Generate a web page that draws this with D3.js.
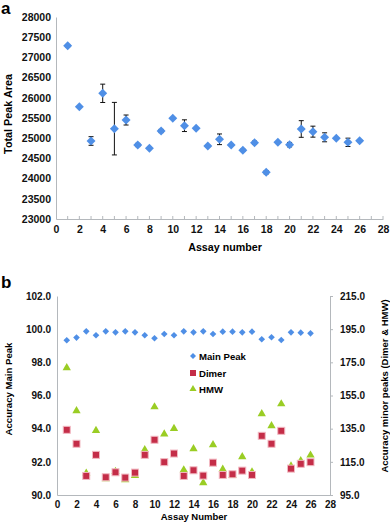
<!DOCTYPE html>
<html>
<head>
<meta charset="utf-8">
<script src="https://cdn.jsdelivr.net/npm/d3@7"></script>
<style>
  body { margin: 0; background: #fff; }
  svg { display: block; font-family: "Liberation Sans", Arial, sans-serif; font-weight: bold; }
  .axis path, .axis line { stroke: #b4b8bc; }
  .axis text { fill: #111; font-weight: bold; }
</style>
</head>
<body>
<div class="result"></div>
<script>
// Panel a: total peak area per assay (mean and error)
const assays = d3.range(1, 27);
const peakArea = [27290, 25780, 24931, 26111, 25236, 25450, 24832, 24750, 25178, 25493,
  25310, 25245, 24807, 24973, 24832, 24700, 24889, 24156, 24898, 24840,
  25228, 25162, 25022, 24998, 24898, 24939];
const peakErr = [30, 0, 107, 227, 650, 124, 40, 20, 40, 20,
  145, 0, 20, 132, 0, 30, 40, 40, 0, 55,
  206, 136, 111, 0, 103, 25];
const areaTicks = [23000, 23500, 24000, 24500, 25000, 25500, 26000, 26500, 27000, 27500, 28000];

// Panel b: accuracy values
const mainPeak = [99.33, 99.49, 99.87, 99.63, 99.87, 99.81, 99.87, 99.81, 99.63, 99.45,
  99.71, 99.63, 99.87, 99.81, 99.87, 99.71, 99.85, 99.85, 99.81, 99.85,
  99.39, 99.51, 99.35, 99.81, 99.79, 99.75];
const dimer = [134.3, 125.9, 106.5, 119.2, 105.7, 108.7, 105.5, 108.5, 119.2, 128.3,
  114.8, 120.0, 106.5, 109.9, 106.7, 114.5, 107.1, 107.5, 109.7, 107.1,
  130.7, 125.9, 133.7, 110.9, 113.8, 114.8];
const hmw = [171.7, 145.8, 108.1, 133.9, 104.7, 109.1, 104.1, 106.7, 122.2, 148.1,
  131.7, 135.1, 110.1, 122.8, 102.4, 125.3, 110.5, 106.7, 118.0, 108.9,
  144.0, 136.7, 149.9, 112.5, 115.6, 119.0];
const mainTicks = [90, 92, 94, 96, 98, 100, 102];
const minorTicks = [95, 115, 135, 155, 175, 195, 215];
const xTicks = d3.range(0, 29, 2);

const w = 390;
const h = 522;
const blue = '#4f8fe6';
const red = '#c42d48';
const green = '#9acd24';

const svg = d3.select('.result')
  .append('svg')
  .attr('width', w)
  .attr('height', h);

const diamond = d3.symbol().type(d3.symbolSquare);
const tri = d3.symbol().type(d3.symbolTriangle).size(30);

// ---------- panel a ----------
const xA = d3.scaleLinear().domain([0, 28]).range([56, 383]);
const yA = d3.scaleLinear().domain([23000, 28000]).range([219, 17]);

svg.append('g')
  .attr('class', 'axis')
  .attr('transform', 'translate(0,' + yA(23000) + ')')
  .call(d3.axisBottom(xA).tickValues(xTicks).tickSize(0).tickPadding(7).tickSizeOuter(0))
  .call(g => g.selectAll('text').style('font-size', '10.5px'));

// small tick marks every unit, pointing into the plot
svg.append('g')
  .selectAll('line')
  .data(d3.range(1, 29))
  .enter()
  .append('line')
  .attr('x1', d => xA(d)).attr('x2', d => xA(d))
  .attr('y1', yA(23000)).attr('y2', yA(23000) - 3)
  .attr('stroke', '#b4b8bc');

svg.append('g')
  .attr('class', 'axis')
  .attr('transform', 'translate(' + xA(0) + ',0)')
  .call(d3.axisLeft(yA).tickValues(areaTicks).tickFormat(d3.format('d')).tickSize(0).tickPadding(5).tickSizeOuter(0))
  .call(g => g.selectAll('text').style('font-size', '10.5px'));

// error bars
const errG = svg.append('g').attr('stroke', '#111').attr('stroke-width', 1);
assays.forEach(function (a, i) {
  if (!peakErr[i]) return;
  const x = xA(a);
  const y1 = yA(peakArea[i] - peakErr[i]);
  const y2 = yA(peakArea[i] + peakErr[i]);
  errG.append('line').attr('x1', x).attr('x2', x).attr('y1', y1).attr('y2', y2);
  errG.append('line').attr('x1', x - 2.5).attr('x2', x + 2.5).attr('y1', y1).attr('y2', y1);
  errG.append('line').attr('x1', x - 2.5).attr('x2', x + 2.5).attr('y1', y2).attr('y2', y2);
});

svg.append('g')
  .selectAll('path')
  .data(assays)
  .enter()
  .append('path')
  .attr('d', diamond.size(40))
  .attr('transform', (d, i) => 'translate(' + xA(d) + ',' + yA(peakArea[i]) + ') rotate(45)')
  .attr('fill', blue);

svg.append('text')
  .attr('transform', 'translate(12,114) rotate(-90)')
  .attr('text-anchor', 'middle')
  .style('font-size', '10.8px')
  .text('Total Peak Area');

svg.append('text')
  .attr('x', 225).attr('y', 251)
  .attr('text-anchor', 'middle')
  .style('font-size', '10.7px')
  .text('Assay number');

svg.append('text')
  .attr('x', 1).attr('y', 14)
  .style('font-size', '17px')
  .text('a');

// ---------- panel b ----------
const xB = d3.scaleLinear().domain([0, 28]).range([57, 330]);
const yL = d3.scaleLinear().domain([90, 102]).range([495, 296]);
const yR = d3.scaleLinear().domain([95, 215]).range([495, 296]);

svg.append('g')
  .attr('class', 'axis')
  .attr('transform', 'translate(0,' + yL(90) + ')')
  .call(d3.axisBottom(xB).tickValues(xTicks).tickSize(0).tickPadding(6).tickSizeOuter(0))
  .call(g => g.selectAll('text').style('font-size', '10px'));

svg.append('g')
  .attr('class', 'axis')
  .attr('transform', 'translate(' + xB(0) + ',0)')
  .call(d3.axisLeft(yL).tickValues(mainTicks).tickFormat(d3.format('.1f')).tickSize(0).tickPadding(6).tickSizeOuter(0))
  .call(g => g.selectAll('text').style('font-size', '10px'));

svg.append('g')
  .attr('class', 'axis')
  .attr('transform', 'translate(' + xB(28) + ',0)')
  .call(d3.axisRight(yR).tickValues(minorTicks).tickFormat(d3.format('.1f')).tickSize(3).tickPadding(7).tickSizeOuter(0))
  .call(g => g.selectAll('text').style('font-size', '10px'));

// HMW triangles
svg.append('g')
  .selectAll('path')
  .data(assays)
  .enter()
  .append('path')
  .attr('d', tri)
  .attr('transform', (d, i) => 'translate(' + xB(d) + ',' + yR(hmw[i]) + ')')
  .attr('fill', green);

// Dimer squares
svg.append('g')
  .selectAll('rect')
  .data(assays)
  .enter()
  .append('rect')
  .attr('x', d => xB(d) - 3.5)
  .attr('y', (d, i) => yR(dimer[i]) - 3.5)
  .attr('width', 7).attr('height', 7)
  .attr('fill', red)
  .attr('stroke', '#f2b9c2')
  .attr('stroke-width', 1);

// Main peak diamonds
svg.append('g')
  .selectAll('path')
  .data(assays)
  .enter()
  .append('path')
  .attr('d', diamond.size(22))
  .attr('transform', (d, i) => 'translate(' + xB(d) + ',' + yL(mainPeak[i]) + ') rotate(45)')
  .attr('fill', blue);

// legend
const legend = svg.append('g').attr('transform', 'translate(193,0)');
legend.append('path')
  .attr('d', diamond.size(18))
  .attr('transform', 'translate(0,356) rotate(45)')
  .attr('fill', blue);
legend.append('rect')
  .attr('x', -3).attr('y', 370).attr('width', 6).attr('height', 6)
  .attr('fill', red);
legend.append('path')
  .attr('d', d3.symbol().type(d3.symbolTriangle).size(22))
  .attr('transform', 'translate(0,389)')
  .attr('fill', green);
[['Main Peak', 356], ['Dimer', 373], ['HMW', 389]].forEach(function (t) {
  legend.append('text')
    .attr('x', 6).attr('y', t[1] + 3.5)
    .style('font-size', '9.6px')
    .text(t[0]);
});

svg.append('text')
  .attr('transform', 'translate(12,389) rotate(-90)')
  .attr('text-anchor', 'middle')
  .style('font-size', '9.6px')
  .text('Accuracy Main Peak');

svg.append('text')
  .attr('transform', 'translate(388,386) rotate(-90)')
  .attr('text-anchor', 'middle')
  .style('font-size', '9.5px')
  .text('Accuracy minor peaks (Dimer & HMW)');

svg.append('text')
  .attr('x', 194).attr('y', 520)
  .attr('text-anchor', 'middle')
  .style('font-size', '9.5px')
  .text('Assay Number');

svg.append('text')
  .attr('x', 1).attr('y', 288)
  .style('font-size', '17px')
  .text('b');
</script>
</body>
</html>
